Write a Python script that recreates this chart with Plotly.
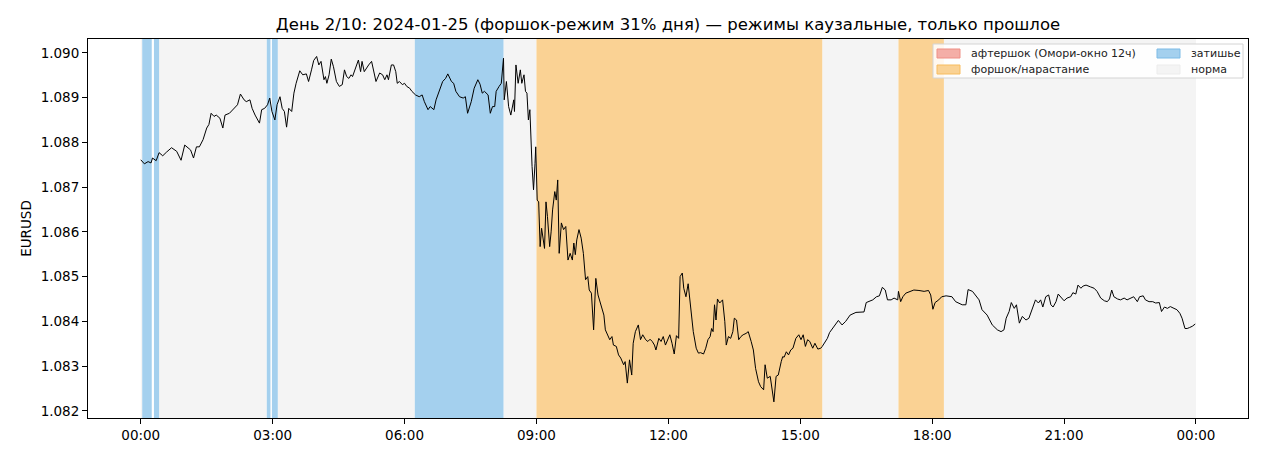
import pandas as pd
import plotly.graph_objects as go

DAY = pd.Timestamp("2024-01-25")

# minute of day and EURUSD price
minutes = [
    0, 5, 10, 14, 16, 21, 25, 30, 35, 42,
    49, 55, 60, 64, 68, 72, 76, 80, 85, 90,
    93, 96, 100, 103, 108, 112, 115, 121, 128, 132,
    136, 141, 144, 149, 152, 156, 162, 165, 169, 173,
    176, 179, 183, 186, 190, 193, 196, 199, 202, 206,
    209, 212, 217, 221, 226, 229, 233, 236, 240, 243,
    246, 250, 252, 254, 257, 260, 263, 267, 271, 275,
    278, 281, 284, 287, 289, 293, 297, 300, 302, 305,
    309, 311, 315, 318, 321, 326, 330, 333, 336, 338,
    342, 345, 348, 350, 353, 357, 360, 363, 367, 370,
    375, 380, 384, 387, 392, 395, 400, 403, 408, 412,
    416, 419, 424, 427, 430, 435, 440, 443, 446, 451,
    455, 460, 463, 466, 469, 474, 477, 480, 483, 485,
    489, 492, 495, 496, 499, 502, 505, 509, 510, 512,
    515, 518, 520, 523, 525, 527, 529, 531, 534, 536,
    538, 539, 541, 543, 545, 547, 551, 553, 555, 558,
    560, 562, 565, 567, 569, 571, 574, 577, 580, 583,
    586, 589, 591, 593, 595, 598, 601, 604, 607, 610,
    612, 615, 618, 621, 624, 627, 629, 632, 634, 637,
    640, 643, 645, 649, 652, 655, 659, 661, 664, 667,
    670, 672, 675, 679, 682, 685, 689, 692, 695, 698,
    701, 703, 707, 710, 713, 716, 719, 722, 725, 728,
    731, 734, 736, 739, 741, 744, 747, 751, 754, 758,
    761, 764, 768, 771, 774, 777, 779, 781, 783, 785,
    787, 790, 794, 797, 799, 802, 805, 808, 810, 813,
    816, 819, 822, 826, 829, 833, 836, 839, 843, 846,
    850, 852, 855, 859, 861, 864, 867, 870, 874, 876,
    878, 881, 884, 887, 890, 894, 898, 901, 904, 907,
    910, 913, 917, 920, 924, 928, 930, 934, 937, 940,
    946, 952, 957, 962, 968, 976, 987, 990, 999, 1004,
    1008, 1012, 1016, 1019, 1024, 1028, 1033, 1034, 1037, 1040,
    1044, 1049, 1055, 1062, 1069, 1075, 1078, 1081, 1084, 1089,
    1093, 1099, 1107, 1112, 1121, 1126, 1129, 1135, 1140, 1144,
    1148, 1155, 1162, 1169, 1174, 1178, 1181, 1185, 1188, 1192,
    1195, 1199, 1203, 1208, 1212, 1217, 1221, 1225, 1228, 1231,
    1235, 1239, 1242, 1245, 1249, 1252, 1255, 1260, 1264, 1269,
    1272, 1276, 1279, 1283, 1286, 1290, 1296, 1301, 1305, 1310,
    1315, 1319, 1322, 1325, 1328, 1333, 1337, 1342, 1346, 1351,
    1355, 1360, 1363, 1368, 1371, 1376, 1381, 1385, 1390, 1393,
    1397, 1401, 1405, 1410, 1414, 1418, 1421, 1425, 1428, 1431,
    1435, 1439,
]
prices = [
    1.08761, 1.08752, 1.08757, 1.08754, 1.08765, 1.08759, 1.08777, 1.08770, 1.08778, 1.08788,
    1.08780, 1.08760, 1.08794, 1.08788, 1.08783, 1.08765, 1.08790, 1.08790, 1.08806, 1.08832,
    1.08840, 1.08865, 1.08858, 1.08861, 1.08854, 1.08832, 1.08861, 1.08865, 1.08876, 1.08884,
    1.08908, 1.08895, 1.08891, 1.08895, 1.08876, 1.08861, 1.08843, 1.08873, 1.08876, 1.08884,
    1.08899, 1.08869, 1.08850, 1.08884, 1.08902, 1.08876, 1.08869, 1.08834, 1.08876, 1.08869,
    1.08910, 1.08932, 1.08960, 1.08951, 1.08953, 1.08936, 1.08962, 1.08983, 1.08992, 1.08973,
    1.08981, 1.08940, 1.08947, 1.08932, 1.08951, 1.08986, 1.08969, 1.08936, 1.08925, 1.08929,
    1.08962, 1.08947, 1.08943, 1.08951, 1.08947, 1.08966, 1.08984, 1.08958, 1.08981, 1.08958,
    1.08969, 1.08973, 1.08981, 1.08958, 1.08936, 1.08955, 1.08951, 1.08940, 1.08951, 1.08940,
    1.08973, 1.08973, 1.08958, 1.08932, 1.08936, 1.08929, 1.08932, 1.08925, 1.08921, 1.08914,
    1.08906, 1.08902, 1.08906, 1.08891, 1.08873, 1.08880, 1.08873, 1.08895, 1.08917, 1.08936,
    1.08943, 1.08953, 1.08936, 1.08932, 1.08914, 1.08902, 1.08899, 1.08902, 1.08865, 1.08891,
    1.08921, 1.08940, 1.08930, 1.08910, 1.08914, 1.08906, 1.08865, 1.08880, 1.08880, 1.08914,
    1.08925, 1.08932, 1.08988, 1.08895, 1.08936, 1.08880, 1.08861, 1.08895, 1.08869, 1.08973,
    1.08932, 1.08962, 1.08932, 1.08951, 1.08914, 1.08910, 1.08850, 1.08873, 1.08746, 1.08694,
    1.08753, 1.08790, 1.08671, 1.08667, 1.08567, 1.08608, 1.08563, 1.08667, 1.08634, 1.08567,
    1.08600, 1.08649, 1.08690, 1.08671, 1.08716, 1.08552, 1.08620, 1.08605, 1.08612, 1.08537,
    1.08552, 1.08537, 1.08575, 1.08549, 1.08582, 1.08605, 1.08586, 1.08552, 1.08493, 1.08500,
    1.08470, 1.08463, 1.08381, 1.08496, 1.08459, 1.08441, 1.08433, 1.08414, 1.08381, 1.08370,
    1.08359, 1.08366, 1.08347, 1.08344, 1.08325, 1.08318, 1.08303, 1.08310, 1.08262, 1.08314,
    1.08280, 1.08351, 1.08377, 1.08392, 1.08359, 1.08370, 1.08359, 1.08355, 1.08360, 1.08355,
    1.08347, 1.08336, 1.08362, 1.08355, 1.08366, 1.08347, 1.08359, 1.08370, 1.08351, 1.08327,
    1.08368, 1.08362, 1.08500, 1.08508, 1.08474, 1.08455, 1.08484, 1.08426, 1.08377, 1.08340,
    1.08329, 1.08330, 1.08327, 1.08340, 1.08359, 1.08366, 1.08384, 1.08377, 1.08437, 1.08403,
    1.08450, 1.08441, 1.08448, 1.08400, 1.08347, 1.08366, 1.08362, 1.08377, 1.08407, 1.08403,
    1.08359, 1.08366, 1.08370, 1.08373, 1.08377, 1.08355, 1.08336, 1.08295, 1.08265, 1.08254,
    1.08247, 1.08303, 1.08273, 1.08277, 1.08250, 1.08220, 1.08277, 1.08280, 1.08310, 1.08321,
    1.08320, 1.08332, 1.08325, 1.08336, 1.08340, 1.08362, 1.08370, 1.08359, 1.08370, 1.08344,
    1.08359, 1.08355, 1.08340, 1.08351, 1.08338, 1.08340, 1.08344, 1.08355, 1.08362, 1.08375,
    1.08388, 1.08402, 1.08392, 1.08400, 1.08414, 1.08420, 1.08421, 1.08442, 1.08448, 1.08455,
    1.08457, 1.08476, 1.08470, 1.08448, 1.08448, 1.08452, 1.08448, 1.08467, 1.08444, 1.08455,
    1.08463, 1.08467, 1.08470, 1.08469, 1.08467, 1.08469, 1.08459, 1.08427, 1.08442, 1.08448,
    1.08455, 1.08457, 1.08455, 1.08444, 1.08437, 1.08437, 1.08471, 1.08467, 1.08455, 1.08448,
    1.08426, 1.08414, 1.08392, 1.08381, 1.08377, 1.08381, 1.08407, 1.08422, 1.08442, 1.08429,
    1.08437, 1.08396, 1.08411, 1.08403, 1.08407, 1.08429, 1.08448, 1.08441, 1.08448, 1.08432,
    1.08455, 1.08459, 1.08437, 1.08432, 1.08444, 1.08461, 1.08455, 1.08446, 1.08452, 1.08455,
    1.08464, 1.08461, 1.08481, 1.08474, 1.08479, 1.08481, 1.08477, 1.08474, 1.08467, 1.08452,
    1.08446, 1.08444, 1.08450, 1.08470, 1.08455, 1.08450, 1.08448, 1.08452, 1.08448, 1.08452,
    1.08455, 1.08444, 1.08455, 1.08457, 1.08448, 1.08444, 1.08444, 1.08441, 1.08442, 1.08422,
    1.08432, 1.08429, 1.08433, 1.08429, 1.08426, 1.08418, 1.08407, 1.08384, 1.08384, 1.08386,
    1.08389, 1.08394,
]
assert len(minutes) == len(prices)

# regime segments, minute of day
norm_start = [0, 25, 187, 495, 930, 1096]
norm_end = [2, 172, 374, 540, 1034, 1440]
calm_start = [2, 18, 172, 179, 374]
calm_end = [15, 25, 177, 187, 495]
fore_start = [540, 1034]
fore_end = [930, 1096]

y_ticks = [1.082, 1.083, 1.084, 1.085, 1.086, 1.087, 1.088, 1.089, 1.090]

legend_labels = ["афтершок (Омори-окно 12ч)", "форшок/нарастание", "затишье", "норма"]

RED = "#f4aea7"
ORANGE = "#fad294"
BLUE = "#a4d0ee"
GRAY = "#f4f4f4"
FONT = "DejaVu Sans"


def at(m):
    return DAY + pd.Timedelta(minutes=m)


fig = go.Figure()

for spans, color in [((norm_start, norm_end), GRAY),
                     ((calm_start, calm_end), BLUE),
                     ((fore_start, fore_end), ORANGE)]:
    for s, e in zip(*spans):
        fig.add_vrect(x0=at(s), x1=at(e), fillcolor=color, opacity=1,
                      line_width=0, layer="below")

fig.add_trace(go.Scatter(
    x=[at(m) for m in minutes],
    y=prices,
    mode="lines",
    line=dict(color="black", width=1),
    showlegend=False,
))

# legend box (matplotlib-like, 2 columns), offsets in px from the plot's top-right corner
fig.add_shape(type="rect", xref="paper", yref="paper", xsizemode="pixel", ysizemode="pixel",
              xanchor=1, yanchor=1, x0=-315, x1=-5, y0=-5, y1=-39,
              fillcolor="rgba(255,255,255,0.85)", line=dict(color="#d4d4d4", width=1),
              layer="above")
legend_faces = [RED, ORANGE, BLUE, GRAY]
legend_edges = ["#ee8f86", "#f7bc5e", "#7cbbe6", "#ececec"]
for i, (label, face, edge) in enumerate(zip(legend_labels, legend_faces, legend_edges)):
    col, row = divmod(i, 2)
    px = -311 + col * 220
    py = -10 - row * 16
    fig.add_shape(type="rect", xref="paper", yref="paper", xsizemode="pixel", ysizemode="pixel",
                  xanchor=1, yanchor=1, x0=px, x1=px + 23, y0=py, y1=py - 9,
                  fillcolor=face, line=dict(color=edge, width=1), layer="above")
    fig.add_annotation(text=label, xref="paper", yref="paper", x=1, y=1,
                       xanchor="left", yanchor="middle", showarrow=False,
                       xshift=px + 32, yshift=py - 4.5,
                       font=dict(family=FONT, size=11, color="#222"))

axis_style = dict(showgrid=False, zeroline=False, showline=True, linecolor="black",
                  linewidth=1, mirror=True, ticks="outside", ticklen=5, tickwidth=1,
                  tickcolor="black", automargin=False,
                  tickfont=dict(family=FONT, size=13.5, color="black"))

fig.update_xaxes(
    type="date",
    range=[at(-72), at(1511)],
    tickvals=[at(h * 60) for h in range(0, 25, 3)],
    tickformat="%H:%M",
    **axis_style,
)
fig.update_yaxes(
    range=[1.08184, 1.09031],
    tickvals=y_ticks,
    tickformat=".3f",
    title=dict(text="EURUSD", font=dict(family=FONT, size=13.5, color="black"), standoff=5),
    **axis_style,
)

# the page adds an 8px body margin, so margins are trimmed by 8px on the left/top
fig.update_layout(
    width=1265,
    height=460,
    margin=dict(l=80, r=25, t=31, b=50, autoexpand=False),
    paper_bgcolor="white",
    plot_bgcolor="white",
    font=dict(family=FONT, color="black"),
    title=dict(
        text="День 2/10: 2024-01-25 (форшок-режим 31% дня) — режимы каузальные, только прошлое",
        x=0.5, xref="paper", xanchor="center",
        y=1 - 16 / 460, yref="container", yanchor="middle",
        font=dict(family=FONT, size=16.5, color="black"),
    ),
)

fig.write_html("out.html")
